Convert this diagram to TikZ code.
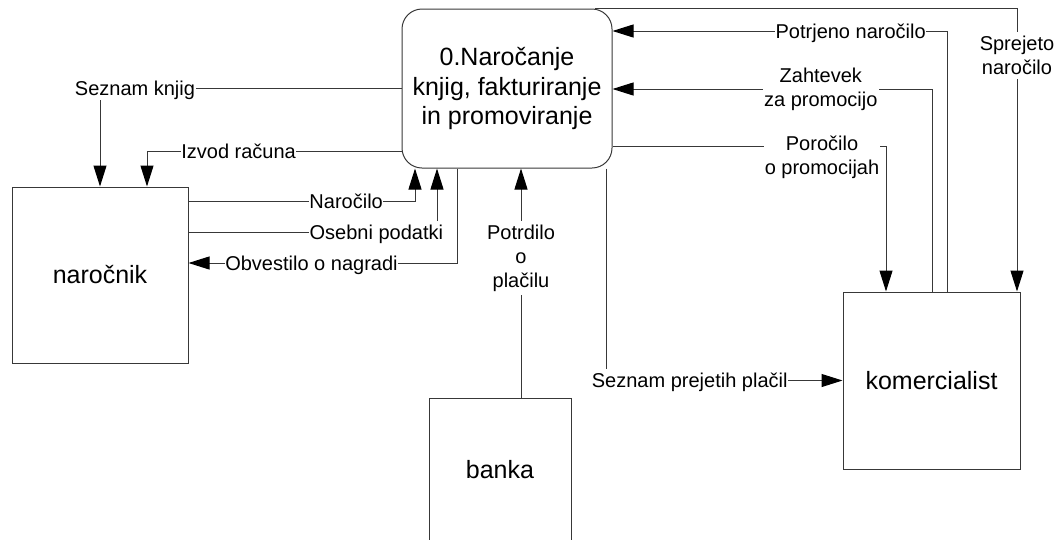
\documentclass[tikz,border=0pt]{standalone}
\usepackage{fontspec}
\setmainfont{Liberation Sans}
\usetikzlibrary{arrows.meta,positioning}
\colorlet{dfdLine}{black!78}
\colorlet{dfdText}{black}
\tikzset{
  entity/.style={draw=dfdLine, line width=1pt, inner sep=0pt, text=dfdText,
    font=\fontsize{25}{29.5}\selectfont},
  procbox/.style={entity, rounded corners=20pt, align=center},
  flow/.style={dfdLine, line width=1pt,
    -{Triangle[length=21pt,width=13pt,color=black]}},
  lbl/.style={fill=white, inner xsep=0.5pt, inner ysep=4pt, text=dfdText,
    font=\fontsize{20}{24}\selectfont, text height=14.5pt, text depth=0pt},
  mlbl/.style={fill=white, inner xsep=1pt, inner ysep=4pt, text=dfdText,
    font=\fontsize{20}{24}\selectfont, align=center},
}
\begin{document}
\begin{tikzpicture}[x=1pt,y=-1pt]
        \useasboundingbox (0,0) rectangle (1057,539);
        \node[procbox, minimum width=210pt, minimum height=159pt]
              (proc) at (507,88.5)
              {0.Naročanje\\knjig, fakturiranje\\in promoviranje};
        \node[entity, minimum width=176pt, minimum height=176pt]
              (nar) at (100,275) {naročnik};
        \node[entity, minimum width=142pt, minimum height=143pt]
              (banka) at (500,469.5) {banka};
        \node[entity, minimum width=177pt, minimum height=177pt]
              (kom) at (931.5,380.5) {komercialist};
        \draw[flow](proc.west) -| (nar.north)
              node[lbl, pos=0.442]{Seznam knjig};
        \draw[flow](proc.west |- 0,151) -| ([xshift=47pt]nar.north)
              node[lbl, pos=0.32]{Izvod računa};
        \draw[flow](nar.east |- 0,201) -| (proc.south -| 415,0)
              node[lbl, pos=0.348]{Naročilo};
        \draw[flow](nar.east |- 0,232) -| (proc.south -| 437,0)
              node[lbl, pos=0.378]{Osebni podatki};
        \draw[flow](proc.south -| 457,0) |- (nar.east |- 0,263)
              node[lbl, pos=0.771]{Obvestilo o nagradi};
        \draw[flow](banka.north -| 521,0) -- (proc.south -| 521,0)
              node[mlbl, pos=0.609]{Potrdilo\\o\\plačilu};
        \draw[flow](proc.south -| 606,0) |- (kom.west)
              node[lbl, pos=0.677]{Seznam prejetih plačil};
        \draw[flow](proc.east |- 0,146) -| (kom.north -| 886,0)
              node[mlbl, pos=0.383, yshift=-11.5pt]{Poročilo\\o promocijah};
        \draw[flow](kom.north -| 932,0) |- (proc.east |- 0,89)
              node[mlbl, pos=0.674]{Zahtevek\\za promocijo};
        \draw[flow](kom.north -| 947,0) |- (proc.east |- 0,31)
              node[lbl, pos=0.644]{Potrjeno naročilo};
        \draw[flow](proc.north -| 595,0) -| (kom.north -| 1017,0)
              node[mlbl, pos=0.583]{Sprejeto\\naročilo};
      \end{tikzpicture}
\end{document}
